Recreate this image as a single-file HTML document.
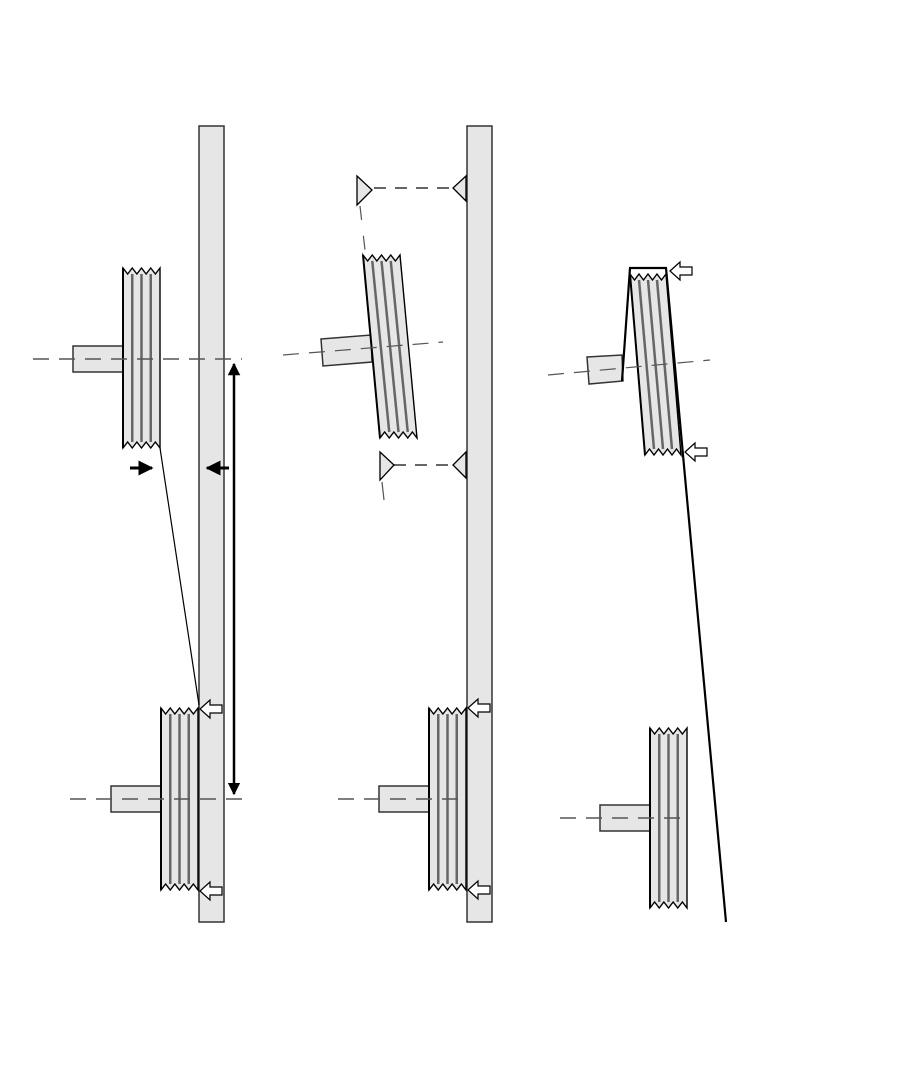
<!DOCTYPE html>
<html><head><meta charset="utf-8"><style>body{margin:0;background:#fff}svg{display:block}</style></head>
<body>
<svg id="s" width="897" height="1077" viewBox="0 0 897 1077" xmlns="http://www.w3.org/2000/svg">
<defs>
<marker id="ah" viewBox="0 0 10 10" refX="9" refY="5" markerWidth="5" markerHeight="5" orient="auto-start-reverse"><path d="M0,0L10,5L0,10z" fill="#000"/></marker>
</defs>
<!-- bars -->
<rect x="199" y="126" width="25" height="796" fill="#e6e6e6" stroke="#333" stroke-width="1.5"/>
<rect x="467" y="126" width="25" height="796" fill="#e6e6e6" stroke="#333" stroke-width="1.5"/>
<g id="g"></g>
<!-- panel 1 -->
<line x1="33" y1="359" x2="242" y2="359" stroke="#555" stroke-width="1.5" stroke-dasharray="16,10"/>
<line x1="70" y1="799" x2="242" y2="799" stroke="#555" stroke-width="1.5" stroke-dasharray="16,10"/>
<line x1="234" y1="364" x2="234" y2="794" stroke="#000" stroke-width="2.5" marker-start="url(#ah)" marker-end="url(#ah)"/>
<line x1="160" y1="448" x2="199" y2="705" stroke="#000" stroke-width="1.2"/>
<line x1="130" y1="468" x2="152" y2="468" stroke="#000" stroke-width="3" marker-end="url(#ah)"/>
<line x1="229" y1="468" x2="207" y2="468" stroke="#000" stroke-width="3" marker-end="url(#ah)"/>
<!-- panel 2 -->
<line x1="338" y1="799" x2="466" y2="799" stroke="#555" stroke-width="1.5" stroke-dasharray="16,10"/>
<line x1="283" y1="355" x2="443" y2="342" stroke="#555" stroke-width="1.2" stroke-dasharray="16,10"/>
<line x1="374" y1="188" x2="452" y2="188" stroke="#666" stroke-width="2" stroke-dasharray="12,9"/>
<line x1="394" y1="465" x2="452" y2="465" stroke="#666" stroke-width="2" stroke-dasharray="12,9"/>
<line x1="360" y1="206" x2="365" y2="250" stroke="#555" stroke-width="1.2" stroke-dasharray="14,16"/>
<line x1="382" y1="482" x2="384" y2="500" stroke="#555" stroke-width="1.2"/>
<path d="M357,176L372,190L357,205z" fill="#e6e6e6" stroke="#000" stroke-width="1.3"/>
<path d="M466,176L453,188L466,201z" fill="#e6e6e6" stroke="#000" stroke-width="1.3"/>
<path d="M380,452L394,465L380,480z" fill="#e6e6e6" stroke="#000" stroke-width="1.3"/>
<path d="M466,452L453,465L466,478z" fill="#e6e6e6" stroke="#000" stroke-width="1.3"/>
<!-- panel 3 -->
<line x1="560" y1="818" x2="687" y2="818" stroke="#555" stroke-width="1.5" stroke-dasharray="16,10"/>
<line x1="548" y1="375" x2="710" y2="360" stroke="#555" stroke-width="1.2" stroke-dasharray="16,10"/>
<path d="M622,381L630,268L666,268L683,455L726,922" fill="none" stroke="#000" stroke-width="2.2"/>
</svg>
<script>
var g=document.getElementById('g'),ns='http://www.w3.org/2000/svg';
function el(t,a){var e=document.createElementNS(ns,t);for(var k in a)e.setAttribute(k,a[k]);g.appendChild(e);return e;}
function hub(pts){el('polygon',{points:pts,fill:'#e6e6e6',stroke:'#333','stroke-width':1.5});}
function pulley(x,y,w,h,dx){
 var n=4,a=6,p=w/n,top=[],bot=[];
 for(var i=0;i<=n*2;i++){var xx=x+i*p/2;top.push([xx,y+(i%2?a:0)]);}
 for(var i=n*2;i>=0;i--){var xx=x+dx+i*p/2;bot.push([xx,y+h-(i%2?a:0)]);}
 var pts=top.concat(bot).map(function(q){return q.join(',')}).join(' ');
 el('polygon',{points:pts,fill:'#e6e6e6',stroke:'#000','stroke-width':1.4});
 for(var i=1;i<n;i++){el('line',{x1:x+i*p,y1:y+a,x2:x+dx+i*p,y2:y+h-a,stroke:'#666','stroke-width':2.5});}
 el('line',{x1:x,y1:y,x2:x+dx,y2:y+h,stroke:'#000','stroke-width':2});
}
function oarrow(x,y){ // open arrow pointing left, tip at x
 el('path',{d:'M'+x+','+y+'l10,-9v5h12v8h-12v5z',fill:'#fff',stroke:'#000','stroke-width':1.2});
}
// panel1
hub('73,346 123,346 123,372 73,372');
pulley(123,268,37,180,0);
hub('111,786 161,786 161,812 111,812');
pulley(161,708,37,182,0);
oarrow(200,709);oarrow(200,891);
// panel2
hub('379,786 429,786 429,812 379,812');
pulley(429,708,37,182,0);
oarrow(468,708);oarrow(468,890);
hub('321,339 371,335 372,362 323,366');
pulley(363,255,37,183,17);
// panel3
hub('587,357 622,355 623,381 589,384');
pulley(630,274,36,181,15);
oarrow(670,271);oarrow(685,452);
hub('600,805 650,805 650,831 600,831');
pulley(650,728,37,180,0);
</script>
</body></html>
